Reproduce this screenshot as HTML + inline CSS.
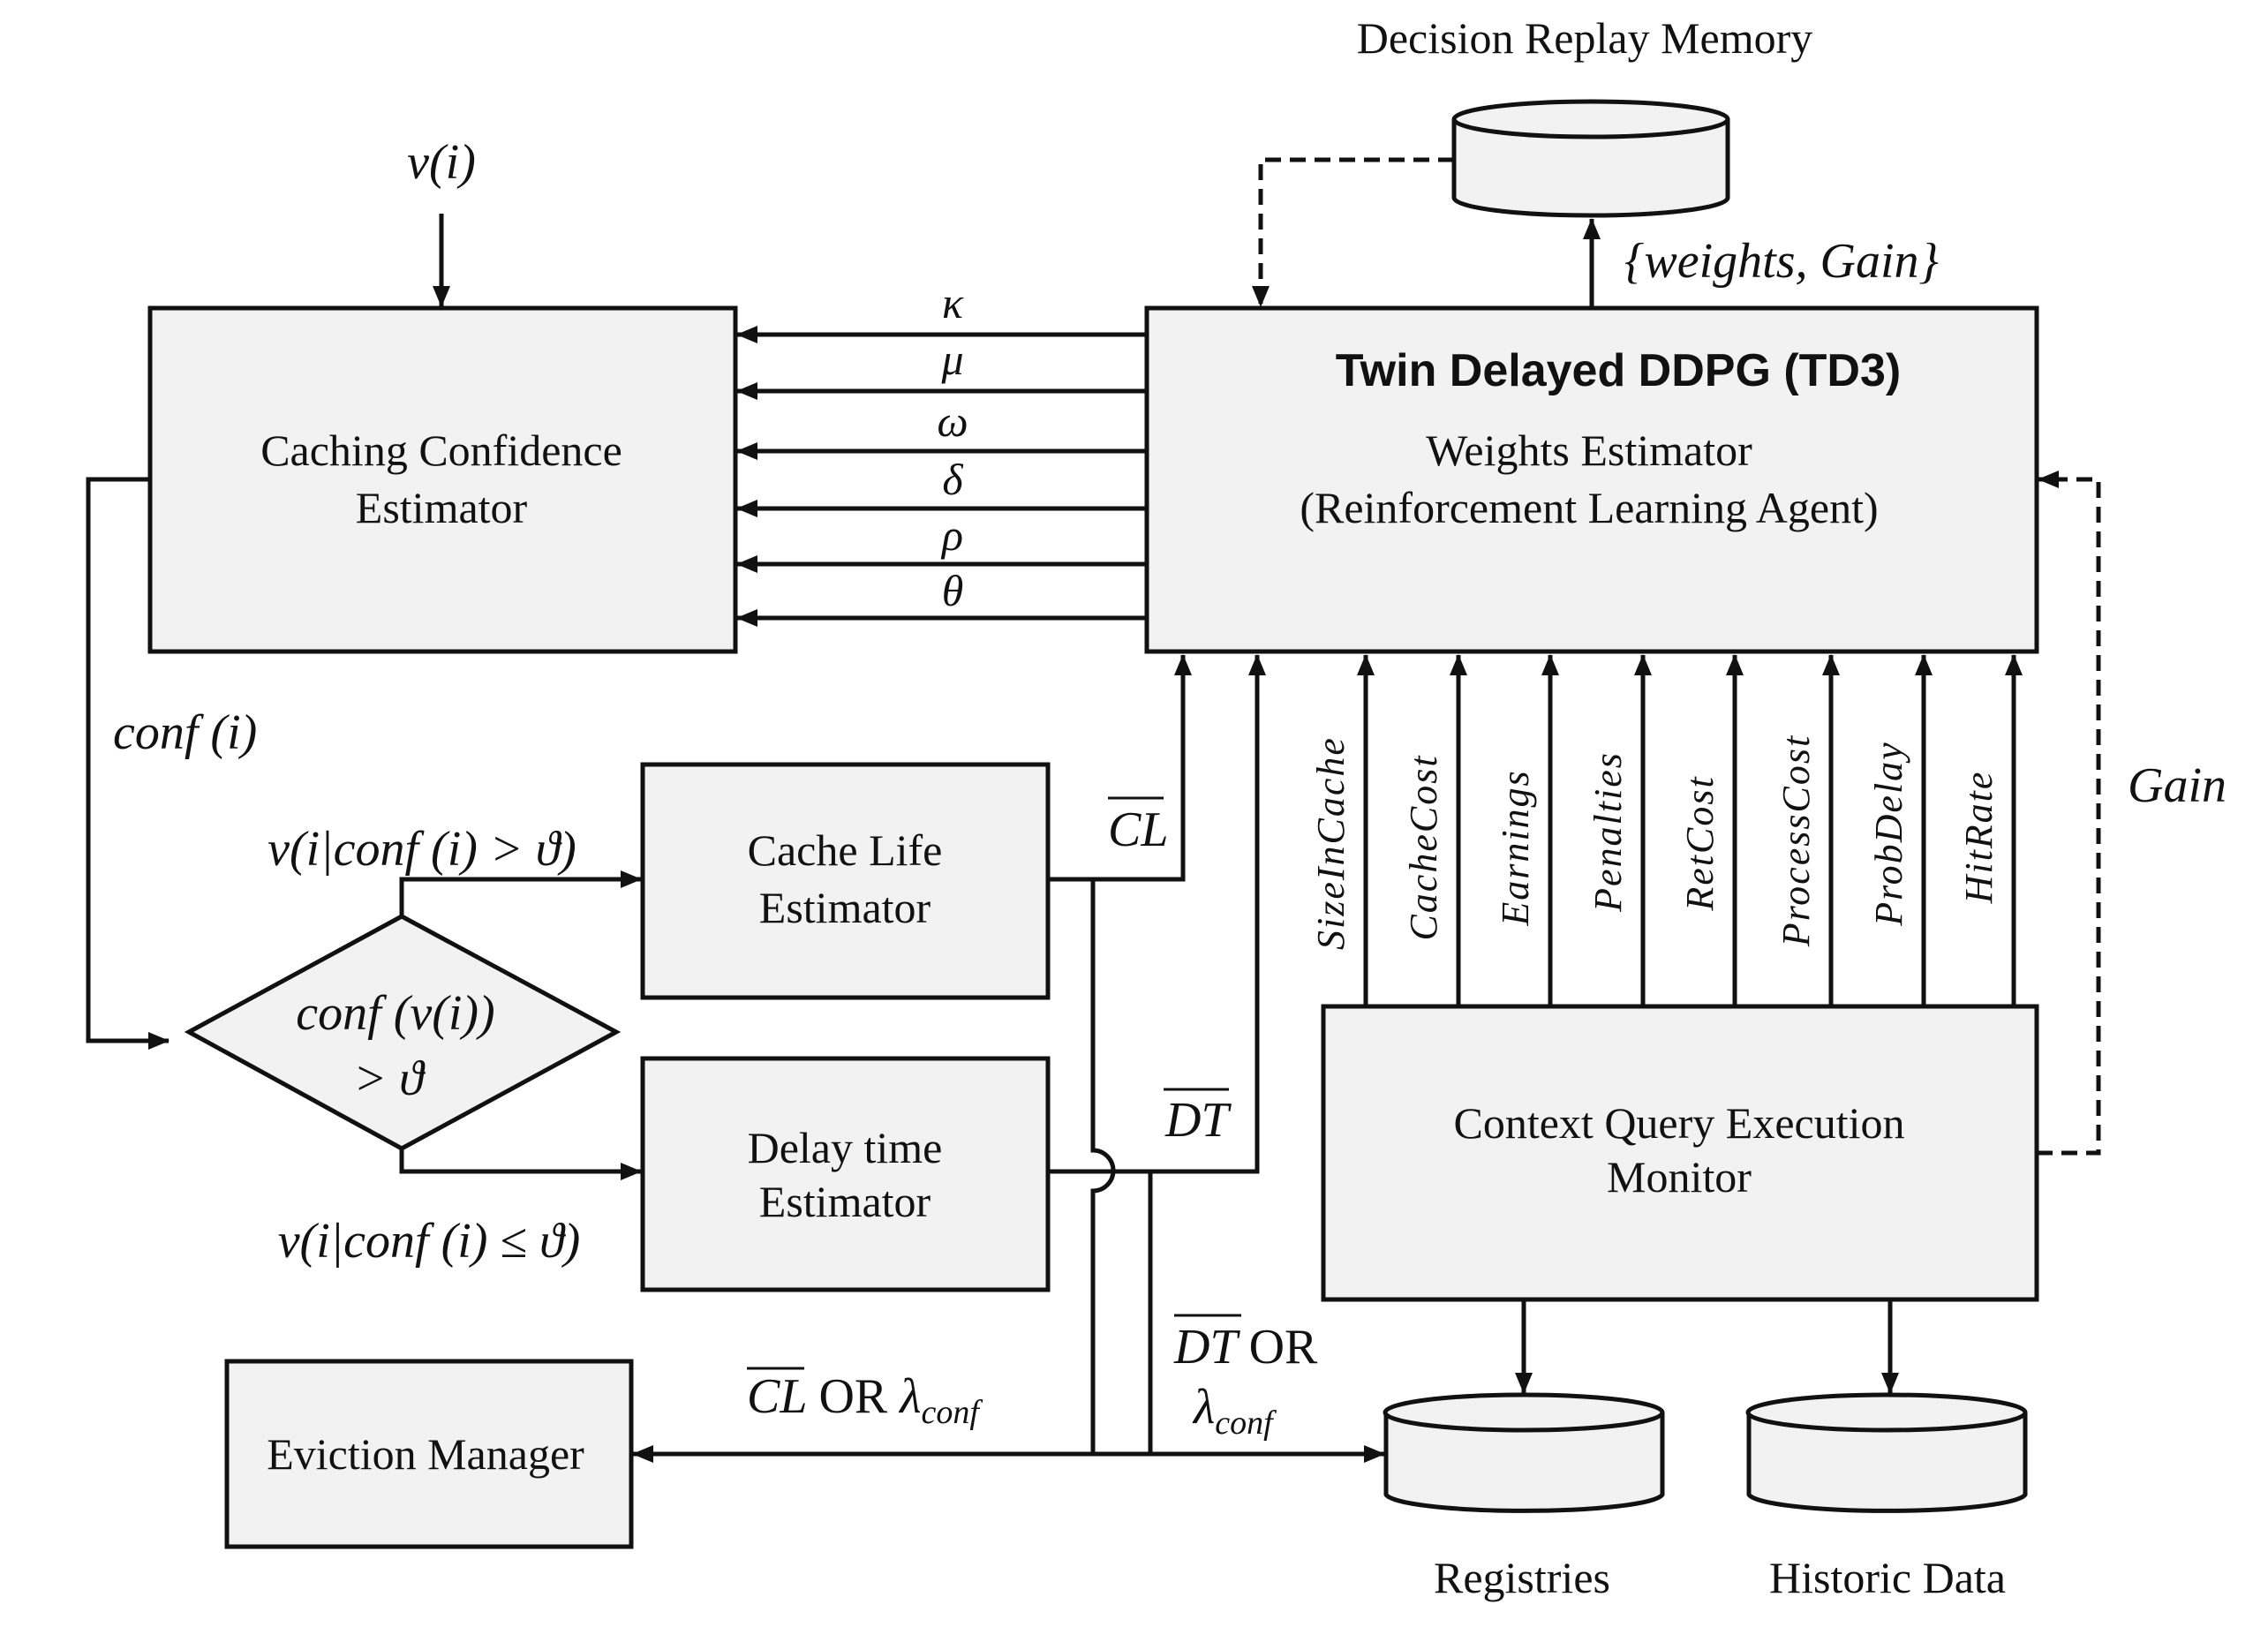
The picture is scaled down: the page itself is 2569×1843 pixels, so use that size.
<!DOCTYPE html>
<html><head><meta charset="utf-8"><style>
html,body{margin:0;padding:0;background:#fff;}
svg{display:block;}
.t{font-family:"Liberation Serif",serif;font-size:50px;fill:#111;}
.m{font-family:"Liberation Serif",serif;font-style:italic;font-size:56px;fill:#111;}
.r{font-family:"Liberation Serif",serif;font-style:italic;font-size:44px;fill:#111;letter-spacing:2px;}
.b{font-family:"Liberation Sans",sans-serif;font-weight:bold;font-size:52px;fill:#111;}
</style></head><body>
<svg width="2569" height="1843" viewBox="0 0 2569 1843" xmlns="http://www.w3.org/2000/svg">
<defs>
<marker id="h" viewBox="0 0 24 20" refX="23" refY="10" markerWidth="24" markerHeight="20" orient="auto" markerUnits="userSpaceOnUse"><path d="M0,0 L24,10 L0,20 Z" fill="#111"/></marker>
</defs>
<g stroke="#111" stroke-width="5" fill="#f2f2f2">
<rect x="170" y="349" width="663" height="389"/>
<rect x="1299" y="349" width="1008" height="389"/>
<rect x="728" y="866" width="459" height="264"/>
<rect x="728" y="1199" width="459" height="262"/>
<rect x="257" y="1542" width="458" height="210"/>
<rect x="1499" y="1140" width="808" height="332"/>
<polygon points="214,1169 455,1038 698,1169 455,1301"/>
<path d="M1647,135 L1647,224 A155,20 0 0 0 1957,224 L1957,135"/>
<ellipse cx="1802" cy="135" rx="155" ry="20"/>
<path d="M1570,1600 L1570,1693 A157,20 0 0 0 1883,1693 L1883,1600"/>
<ellipse cx="1726" cy="1600" rx="157" ry="20"/>
<path d="M1981,1600 L1981,1693 A157,20 0 0 0 2294,1693 L2294,1600"/>
<ellipse cx="2137" cy="1600" rx="157" ry="20"/>
</g>
<g stroke="#111" stroke-width="5" fill="none">
<line x1="1299" y1="379" x2="835" y2="379" marker-end="url(#h)"/>
<line x1="1299" y1="443" x2="835" y2="443" marker-end="url(#h)"/>
<line x1="1299" y1="511" x2="835" y2="511" marker-end="url(#h)"/>
<line x1="1299" y1="576" x2="835" y2="576" marker-end="url(#h)"/>
<line x1="1299" y1="639" x2="835" y2="639" marker-end="url(#h)"/>
<line x1="1299" y1="700" x2="835" y2="700" marker-end="url(#h)"/>
<line x1="500" y1="242" x2="500" y2="347" marker-end="url(#h)"/>
<polyline points="170,543 100,543 100,1179 191,1179" marker-end="url(#h)"/>
<polyline points="455,1038 455,996 726,996" marker-end="url(#h)"/>
<polyline points="455,1301 455,1327 726,1327" marker-end="url(#h)"/>
<polyline points="1187,996 1340,996 1340,742" marker-end="url(#h)"/>
<polyline points="1187,1327 1424,1327 1424,742" marker-end="url(#h)"/>
<path d="M1238,996 L1238,1303 A23,23 0 0 1 1238,1349 L1238,1647"/>
<line x1="1303" y1="1327" x2="1303" y2="1647"/>
<line x1="1238" y1="1647" x2="717" y2="1647" marker-end="url(#h)"/>
<line x1="1238" y1="1647" x2="1568" y2="1647" marker-end="url(#h)"/>
<line x1="1547" y1="1140" x2="1547" y2="742" marker-end="url(#h)"/>
<line x1="1652" y1="1140" x2="1652" y2="742" marker-end="url(#h)"/>
<line x1="1756" y1="1140" x2="1756" y2="742" marker-end="url(#h)"/>
<line x1="1861" y1="1140" x2="1861" y2="742" marker-end="url(#h)"/>
<line x1="1965" y1="1140" x2="1965" y2="742" marker-end="url(#h)"/>
<line x1="2074" y1="1140" x2="2074" y2="742" marker-end="url(#h)"/>
<line x1="2179" y1="1140" x2="2179" y2="742" marker-end="url(#h)"/>
<line x1="2281" y1="1140" x2="2281" y2="742" marker-end="url(#h)"/>
<line x1="1803" y1="349" x2="1803" y2="248" marker-end="url(#h)"/>
<line x1="1726" y1="1472" x2="1726" y2="1578" marker-end="url(#h)"/>
<line x1="2141" y1="1472" x2="2141" y2="1578" marker-end="url(#h)"/>
<polyline points="1647,181 1428,181 1428,347" stroke-dasharray="18,10" marker-end="url(#h)"/>
<polyline points="2307,1306 2377,1306 2377,543 2309,543" stroke-dasharray="18,10" marker-end="url(#h)"/>
<line x1="1255" y1="904" x2="1318" y2="904" stroke-width="3"/>
<line x1="1318" y1="1234" x2="1392" y2="1234" stroke-width="3"/>
<line x1="846" y1="1550" x2="911" y2="1550" stroke-width="3"/>
<line x1="1330" y1="1490" x2="1406" y2="1490" stroke-width="3"/>
</g>
<text class="t" x="1795" y="60" text-anchor="middle">Decision Replay Memory</text>
<text class="m" x="1840" y="314" font-size="42">{weights, Gain}</text>
<text class="b" x="1833" y="437" text-anchor="middle">Twin Delayed DDPG (TD3)</text>
<text class="t" x="1800" y="527" text-anchor="middle">Weights Estimator</text>
<text class="t" x="1800" y="592" text-anchor="middle">(Reinforcement  Learning Agent)</text>
<text class="t" x="500" y="527" text-anchor="middle">Caching Confidence</text>
<text class="t" x="500" y="592" text-anchor="middle">Estimator</text>
<text class="m" x="500" y="202" text-anchor="middle">v(i)</text>
<g class="m" text-anchor="middle" font-size="50">
<text x="1079" y="360" font-size="50">κ</text>
<text x="1079" y="424" font-size="50">μ</text>
<text x="1079" y="494" font-size="50">ω</text>
<text x="1079" y="560" font-size="50">δ</text>
<text x="1079" y="623" font-size="50">ρ</text>
<text x="1079" y="686" font-size="50">θ</text>
</g>
<text class="m" x="128" y="848">conf (i)</text>
<text class="m" x="478" y="980" text-anchor="middle" font-size="64">v(i|conf (i) &gt; ϑ)</text>
<text class="m" x="486" y="1424" text-anchor="middle" font-size="64">v(i|conf (i) ≤ ϑ)</text>
<text class="m" x="448" y="1166" text-anchor="middle" font-size="62">conf (v(i))</text>
<text class="m" x="440" y="1240" text-anchor="middle" font-size="62">&gt; ϑ</text>
<text class="t" x="957" y="980" text-anchor="middle">Cache Life</text>
<text class="t" x="957" y="1045" text-anchor="middle">Estimator</text>
<text class="t" x="957" y="1317" text-anchor="middle">Delay time</text>
<text class="t" x="957" y="1378" text-anchor="middle">Estimator</text>
<text class="t" x="482" y="1664" text-anchor="middle">Eviction Manager</text>
<text class="t" x="1902" y="1289" text-anchor="middle">Context Query Execution</text>
<text class="t" x="1902" y="1350" text-anchor="middle">Monitor</text>
<text class="t" x="1724" y="1804" text-anchor="middle">Registries</text>
<text class="t" x="2138" y="1804" text-anchor="middle">Historic Data</text>
<text class="m" x="1255" y="958">CL</text>
<text class="m" x="1320" y="1287">DT</text>
<text class="m" x="846" y="1600">CL <tspan font-style="normal">OR</tspan> λ<tspan font-size="38" dy="12">conf</tspan></text>
<text class="m" x="1330" y="1544">DT <tspan font-style="normal">OR</tspan></text>
<text class="m" x="1352" y="1612">λ<tspan font-size="38" dy="12">conf</tspan></text>
<text class="m" x="2466" y="908" text-anchor="middle" font-size="48">Gain</text>
<g class="r" text-anchor="middle">
<text transform="translate(1522,955) rotate(-90)">SizeInCache</text>
<text transform="translate(1627,960) rotate(-90)">CacheCost</text>
<text transform="translate(1731,960) rotate(-90)">Earnings</text>
<text transform="translate(1836,942) rotate(-90)">Penalties</text>
<text transform="translate(1940,955) rotate(-90)">RetCost</text>
<text transform="translate(2049,952) rotate(-90)">ProcessCost</text>
<text transform="translate(2154,944) rotate(-90)">ProbDelay</text>
<text transform="translate(2256,948) rotate(-90)">HitRate</text>
</g>
</svg>
</body></html>
